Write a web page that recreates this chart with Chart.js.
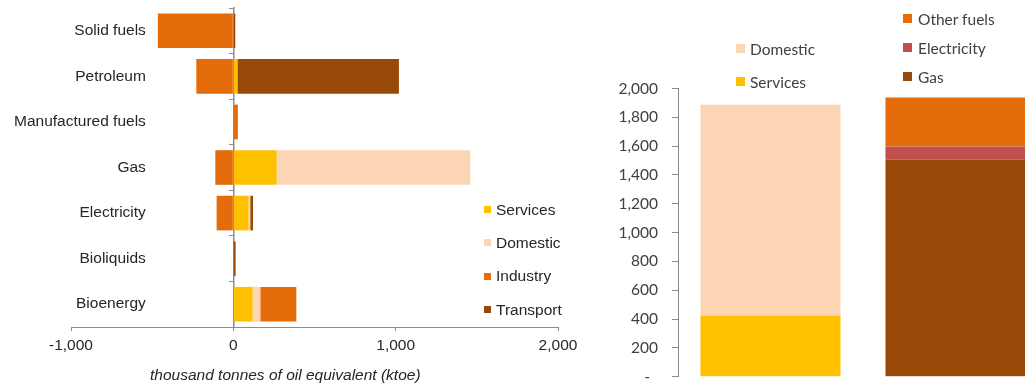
<!DOCTYPE html>
<html>
<head>
<meta charset="utf-8">
<script src="https://cdn.jsdelivr.net/npm/chart.js@4"></script>
<style>
  html, body { margin: 0; padding: 0; width: 1025px; height: 387px; overflow: hidden; background: #fff; }
  .box { position: absolute; }
  #left { left: 0; top: 0; width: 610px; height: 387px; }
  #right { left: 610px; top: 0; width: 450px; height: 400px; }
  .axis-title { position: absolute; left: 150px; top: 366px; font: italic 15.5px "Liberation Sans", Arial, sans-serif; color: #262626; white-space: nowrap; }
  .legend { position: absolute; white-space: nowrap; }
  .legend .item { display: flex; align-items: center; }
  .legend .sw { display: inline-block; flex: none; }
  #legend-left { left: 484px; top: 193px; font: 15.5px "Liberation Sans", Arial, sans-serif; color: #262626; }
  #legend-left .item { height: 33.3px; }
  #legend-left .sw { width: 7px; height: 7px; margin-right: 5px; }
  #legend-sector { left: 736px; top: 32px; font: 15.5px Lato, sans-serif; color: #404040; }
  #legend-sector .item { height: 33px; }
  #legend-sector .sw { width: 9px; height: 9px; margin-right: 5px; }
  #legend-fuel { left: 903px; top: 4px; font: 15.5px Lato, sans-serif; color: #404040; }
  #legend-fuel .item { height: 29px; }
  #legend-fuel .sw { width: 9px; height: 9px; margin-right: 6px; }
</style>
</head>
<body>
<div class="box" id="left"><canvas id="leftChart"></canvas></div>
<div class="box" id="right"><canvas id="rightChart"></canvas></div>
<div class="axis-title">thousand tonnes of oil equivalent (ktoe)</div>
<div class="legend" id="legend-left"></div>
<div class="legend" id="legend-sector"></div>
<div class="legend" id="legend-fuel"></div>

<script>
// left chart: net flows by fuel, ktoe
const fuelCategories = ['Solid fuels', 'Petroleum', 'Manufactured fuels', 'Gas', 'Electricity', 'Bioliquids', 'Bioenergy'];
const servicesValues = [0, 25, 0, 267, 94, 0, 119];
const domesticValues = [0, 0, 0, 1193, 10, 0, 47];
const industryValues = [-465, -228, 28, -111, -103, 0, 222];
const transportValues = [12, 995, 0, 0, 17, 14, 0];
const xTickValues = [-1000, 0, 1000, 2000];

// right chart: two stacked columns
const sideCategories = ['By sector', 'By fuel'];
const sideServices = [425, null];
const sideDomestic = [1462, null];
const sideGas = [null, 1505];
const sideElectricity = [null, 93];
const sideOtherFuels = [null, 339];
const sideTickValues = [0, 200, 400, 600, 800, 1000, 1200, 1400, 1600, 1800, 2000];

const COLORS = {
  services: '#FFC000',
  domestic: '#FCD5B5',
  industry: '#E46C0A',
  transport: '#984807',
  gas: '#984807',
  electricity: '#C0504D',
  other: '#E46C0A',
};
const AXIS_GREY = '#8c8c8c';
const ARIAL = '"Liberation Sans", Arial, sans-serif';

function fmt(v) {
  return v.toLocaleString('en-US');
}

function makeLegend(id, items) {
  const el = document.getElementById(id);
  el.innerHTML = items.map((it) =>
    `<div class="item"><span class="sw" style="background:${it.color}"></span><span>${it.label}</span></div>`
  ).join('');
}

const leftSeries = [
  { label: 'Services', data: servicesValues, color: COLORS.services },
  { label: 'Domestic', data: domesticValues, color: COLORS.domestic },
  { label: 'Industry', data: industryValues, color: COLORS.industry },
  { label: 'Transport', data: transportValues, color: COLORS.transport },
];

new Chart(document.getElementById('leftChart'), {
  type: 'bar',
  data: {
    labels: fuelCategories,
    datasets: leftSeries.map((s) => ({ label: s.label, data: s.data, backgroundColor: s.color, yAxisID: 'y' })),
  },
  options: {
    indexAxis: 'y',
    responsive: true,
    maintainAspectRatio: false,
    animation: false,
    layout: { padding: { top: 8, right: 52, bottom: 0, left: 0 } },
    plugins: { legend: { display: false }, tooltip: { enabled: false } },
    datasets: { bar: { barPercentage: 0.76, categoryPercentage: 1 } },
    scales: {
      x: {
        stacked: true,
        min: -1000,
        max: 2000,
        afterBuildTicks: (s) => { s.ticks = xTickValues.map((v) => ({ value: v })); },
        afterFit: (s) => { s.height = 60; },
        grid: { drawOnChartArea: false, tickLength: 4, color: AXIS_GREY },
        border: { color: AXIS_GREY },
        ticks: { padding: 5, maxRotation: 0, color: '#262626', font: { family: ARIAL, size: 15.5 }, callback: (v) => fmt(v) },
      },
      y: {
        stacked: true,
        afterFit: (s) => { s.width = 71; },
        grid: { display: false, drawTicks: false },
        border: { display: false },
        // labels sit inside the plot, right-aligned a little left of the zero line
        ticks: { mirror: true, crossAlign: 'far', padding: -57, autoSkip: false, color: '#262626', font: { family: ARIAL, size: 15.5 } },
      },
      yZero: {
        type: 'category',
        axis: 'y',
        position: { x: 0 },
        offset: true,
        z: 1,
        ticks: { display: false },
        grid: { offset: true, drawOnChartArea: false, tickLength: 4, color: AXIS_GREY },
        border: { color: AXIS_GREY, width: 1.5 },
      },
    },
  },
});

makeLegend('legend-left', leftSeries);

const sideSeries = [
  { label: 'Services', data: sideServices, color: COLORS.services },
  { label: 'Domestic', data: sideDomestic, color: COLORS.domestic },
  { label: 'Gas', data: sideGas, color: COLORS.gas },
  { label: 'Electricity', data: sideElectricity, color: COLORS.electricity },
  { label: 'Other fuels', data: sideOtherFuels, color: COLORS.other },
];

new Chart(document.getElementById('rightChart'), {
  type: 'bar',
  data: {
    labels: sideCategories,
    datasets: sideSeries.map((s) => ({ label: s.label, data: s.data, backgroundColor: s.color })),
  },
  options: {
    responsive: true,
    maintainAspectRatio: false,
    animation: false,
    layout: { padding: { top: 88.5, right: 12, bottom: 18, left: 0 } },
    plugins: { legend: { display: false }, tooltip: { enabled: false } },
    datasets: { bar: { barPercentage: 0.757, categoryPercentage: 1 } },
    scales: {
      x: { stacked: true, display: false },
      y: {
        stacked: true,
        min: 0,
        max: 2000,
        afterBuildTicks: (s) => { s.ticks = sideTickValues.map((v) => ({ value: v })); },
        afterFit: (s) => { s.width = 68; },
        grid: { drawOnChartArea: false, tickLength: 6, color: AXIS_GREY },
        border: { color: AXIS_GREY },
        ticks: {
          padding: 14,
          color: '#404040',
          font: { family: 'Lato, sans-serif', size: 15.5 },
          callback: (v) => (v === 0 ? '-  ' : fmt(v)),
        },
      },
    },
  },
});

// legends above each column, top item = top of stack
makeLegend('legend-sector', [sideSeries[1], sideSeries[0]]);
makeLegend('legend-fuel', [sideSeries[4], sideSeries[3], sideSeries[2]]);
</script>
</body>
</html>
